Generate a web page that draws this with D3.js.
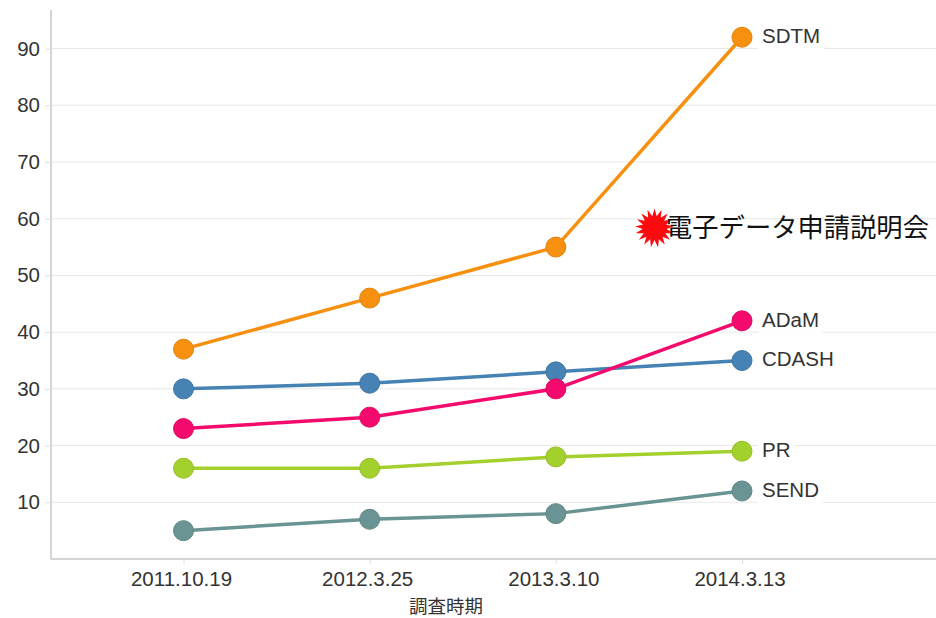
<!DOCTYPE html>
<html>
<head>
<meta charset="utf-8">
<script src="https://cdn.jsdelivr.net/npm/d3@7/dist/d3.min.js"></script>
<style>
  body { margin: 0; background: #fff; }
  svg { display: block; }
  text { font-family: "Liberation Sans", Arial, sans-serif; fill: #333; }
  .cjk { font-family: "Noto Sans CJK JP", sans-serif; }
</style>
</head>
<body>
<svg id="chart" width="936" height="618"></svg>
<script>
var dates = ["2011.10.19", "2012.3.25", "2013.3.10", "2014.3.13"];
var yTicks = [10, 20, 30, 40, 50, 60, 70, 80, 90];
var seriesNames = ["SEND", "PR", "CDASH", "ADaM", "SDTM"];
var SEND = [5, 7, 8, 12];
var PR = [16, 16, 18, 19];
var CDASH = [30, 31, 33, 35];
var ADaM = [23, 25, 30, 42];
var SDTM = [37, 46, 55, 92];
var seriesValues = [SEND, PR, CDASH, ADaM, SDTM];
var seriesColors = ["#6a9393", "#a3d02c", "#4682b4", "#f30a6c", "#f7900f"];
var eventLabel = "電子データ申請説明会";
var xTitle = "調査時期";

var svg = d3.select("#chart");
var plotLeft = 51, plotBottom = 559, plotTop = 10;

var x = d3.scalePoint().domain(dates).range([183.5, 742]);
var y = d3.scaleLinear().domain([0, 96.8]).range([plotBottom, plotTop]);

// grid
svg.append("g").selectAll("line").data(yTicks).join("line")
  .attr("x1", plotLeft).attr("x2", 936)
  .attr("y1", d => y(d)).attr("y2", d => y(d))
  .attr("stroke", "#e8e8e8").attr("stroke-width", 1);

// axes
var yAxis = svg.append("g").attr("transform", "translate(" + plotLeft + ",0)")
  .call(d3.axisLeft(y).tickValues(yTicks).tickSize(6).tickPadding(5));
var xAxis = svg.append("g").attr("transform", "translate(0," + plotBottom + ")")
  .call(d3.axisBottom(x).tickSize(5).tickPadding(7));
yAxis.select(".domain").attr("stroke", "#d4d4d4").attr("stroke-width", 2).attr("d", "M0," + plotTop + "V" + plotBottom);
xAxis.select(".domain").attr("stroke", "#d4d4d4").attr("stroke-width", 2).attr("d", "M" + plotLeft + ",0H936");
svg.selectAll(".tick line").attr("stroke", "#e0e0e0");
svg.selectAll(".tick text").style("font-size", "20.5px").style("font-family", "Liberation Sans").attr("fill", "#333");
xAxis.selectAll(".tick text").attr("dx", -2.5);

svg.append("text").attr("class", "cjk")
  .attr("x", 446).attr("y", 612.5).attr("text-anchor", "middle")
  .style("font-size", "18.5px").text(xTitle);

var line = d3.line().x((d, i) => x(dates[i])).y(d => y(d));

// series labels get a white box that breaks the grid lines
var labelLayer = svg.append("g");
seriesNames.forEach(function(name, s) {
  var vals = seriesValues[s];
  var last = vals[vals.length - 1];
  var label = labelLayer.append("text")
    .attr("x", x(dates[3]) + 20).attr("y", y(last) + 6)
    .style("font-size", "20.5px").text(name);
  var b = label.node().getBBox();
  labelLayer.insert("rect", "text").attr("x", b.x - 4).attr("y", b.y).attr("width", b.width + 8).attr("height", b.height + 2).attr("fill", "#fff");
});

seriesNames.forEach(function(name, s) {
  var g = svg.append("g");
  g.append("path").datum(seriesValues[s])
    .attr("d", line).attr("fill", "none")
    .attr("stroke", seriesColors[s]).attr("stroke-width", 3.5);
  g.selectAll("circle").data(seriesValues[s]).join("circle")
    .attr("cx", (d, i) => x(dates[i])).attr("cy", d => y(d)).attr("r", 10)
    .attr("fill", seriesColors[s])
    .attr("stroke", d3.color(seriesColors[s]).darker(0.25)).attr("stroke-width", 1);
});

// starburst marker next to the event label
var burstX = 654.5, burstY = 228;
var spikes = 17;
var burst = d3.range(spikes * 2).map(function(i) {
  var a = i * Math.PI / spikes;
  var r = i % 2 ? 12 : 19.5;
  return [burstX + r * Math.sin(a), burstY - r * Math.cos(a)];
});
svg.append("polygon").attr("points", burst.join(" ")).attr("fill", "#fb0a0e");
svg.append("text").attr("class", "cjk")
  .attr("x", 666).attr("y", 236.5)
  .style("font-size", "26.3px").style("fill", "#111").text(eventLabel);
</script>
</body>
</html>
